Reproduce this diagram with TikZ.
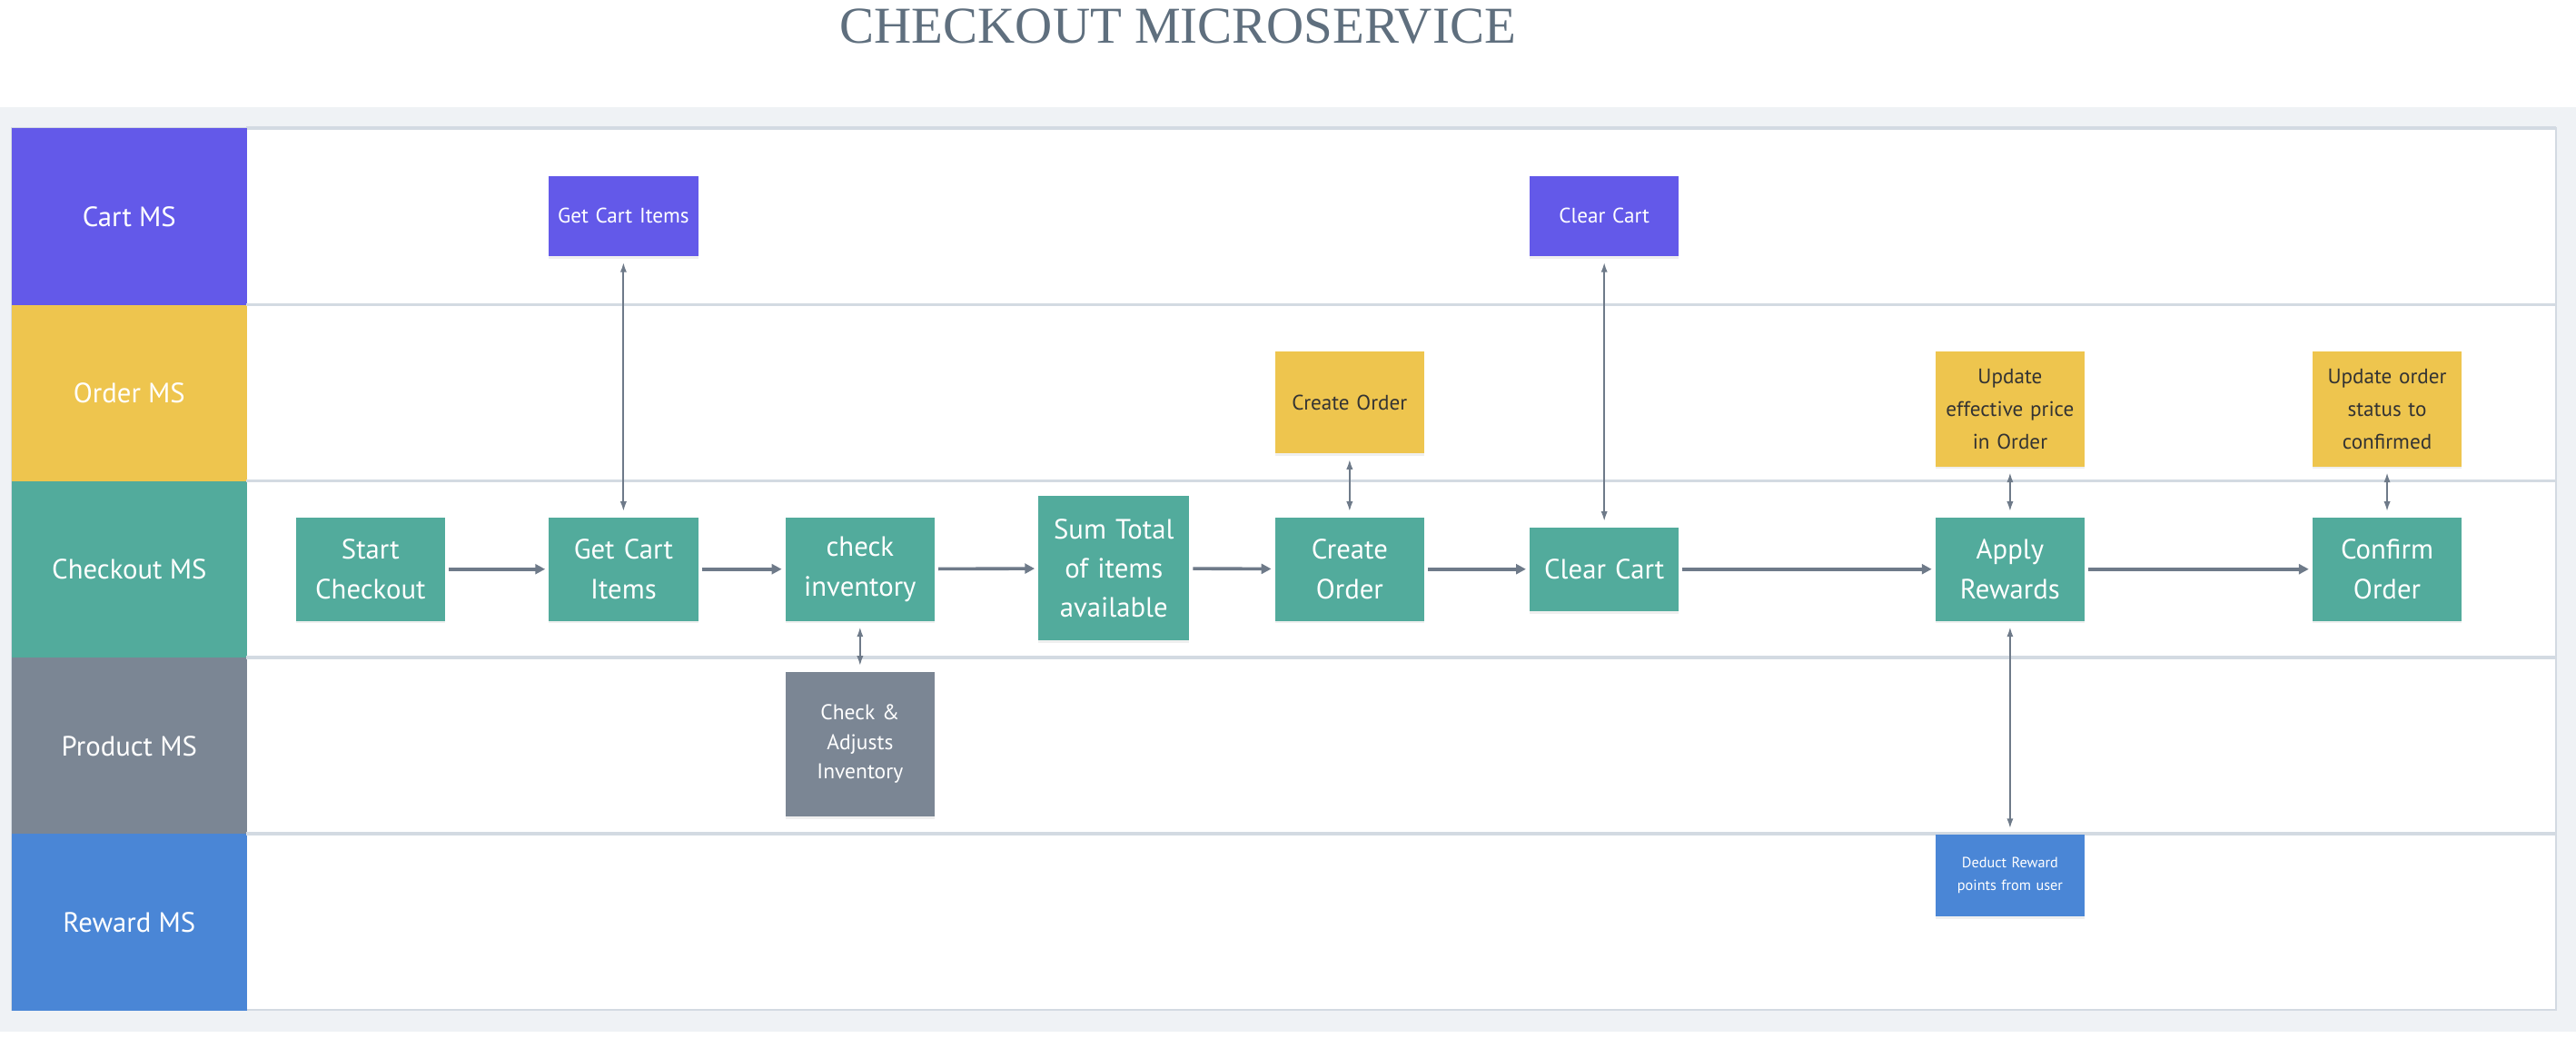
\documentclass[tikz,border=0pt]{standalone}
\usepackage{fontspec}
\setmainfont{PT Sans}
\newfontfamily\titlefont{Liberation Serif}
\usetikzlibrary{arrows.meta,shadows}
\definecolor{cartcol}{HTML}{6359E9}
\definecolor{ordercol}{HTML}{EEC54E}
\definecolor{checkcol}{HTML}{52AB9C}
\definecolor{prodcol}{HTML}{7B8694}
\definecolor{rewardcol}{HTML}{4A86D6}
\definecolor{panelcol}{HTML}{EFF2F5}
\definecolor{sepcol}{HTML}{D3DAE2}
\definecolor{arrowcol}{HTML}{6E7A89}
\definecolor{titlecol}{HTML}{5F6F7E}
\definecolor{darktext}{HTML}{333333}

\begin{document}
\begin{tikzpicture}[x=1pt,y=-1pt,
    lanehead/.style={fill=#1, draw=none, minimum width=143pt, minimum height=107.4pt, anchor=north west, inner sep=0pt,
      text=white, font=\fontsize{17}{20}\selectfont},
    box/.style={fill=#1, draw=none, minimum width=91pt, minimum height=63pt, inner sep=2pt, align=center,
      text width=86pt, text=white, font=\fontsize{17}{24}\selectfont,
      drop shadow={opacity=0.12, shadow xshift=0pt, shadow yshift=-1.5pt}},
    smallbox/.style={box=#1, font=\fontsize{12.8}{20}\selectfont},
    flow/.style={draw=arrowcol, line width=2pt, -{Triangle[length=6pt,width=6pt]}, shorten <=2pt, shorten >=2pt},
    link/.style={draw=arrowcol, line width=1pt, {Latex[length=6pt,width=4pt]}-{Latex[length=6pt,width=4pt]}, shorten <=3.5pt, shorten >=3.5pt}
  ]
  \useasboundingbox (0,0) rectangle (1568,638);
  % title and panel
  \node (title) at (717,16) {\titlefont\fontsize{31.5}{32}\selectfont\color{titlecol}CHECKOUT MICROSERVICE};
  \fill[panelcol] (0,65) rectangle (1568,628);
  \fill[white] (7,78) rectangle (1556,615);
  \draw[sepcol, line width=1pt] (7,78) rectangle (1556,615);
  \draw[sepcol, line width=2.5pt] (150,78) -- (1556,78);

  % lanes
  \foreach \lname/\lcol [count=\i] in {Cart MS/cartcol, Order MS/ordercol, Checkout MS/checkcol, Product MS/prodcol, Reward MS/rewardcol} {
    \pgfmathsetmacro{\ly}{78+(\i-1)*107.4}
    \node[lanehead=\lcol] (lane\i) at (7,\ly) {\lname};
  }
  \foreach \i in {1,...,4} {
    \pgfmathsetmacro{\ly}{78+\i*107.4}
    \draw[sepcol, line width=2pt] (150,\ly) -- (1556,\ly);
  }

  % Cart MS
  \node[smallbox=cartcol, minimum height=49pt] (cartItems) at (379.5,131.5) {Get Cart Items};
  \node[smallbox=cartcol, minimum height=49pt] (cartClear) at (976.5,131.5) {Clear Cart};

  % Order MS
  \node[smallbox=ordercol, text=darktext, minimum height=62pt] (ordCreate) at (821.5,245) {Create Order};
  \node[smallbox=ordercol, text=darktext, minimum height=70pt] (ordPrice) at (1223.5,249) {Update\\effective price\\in Order};
  \node[smallbox=ordercol, text=darktext, minimum height=70pt] (ordStatus) at (1453,249) {Update order\\status to\\confirmed};

  % Checkout MS
  \node[box=checkcol] (start) at (225.5,346.5) {Start\\Checkout};
  \node[box=checkcol] (getItems) at (379.5,346.5) {Get Cart\\Items};
  \node[box=checkcol] (checkInv) at (523.5,346.5) {check\\inventory};
  \node[box=checkcol, minimum width=92pt, minimum height=88pt] (sumTotal) at (678,346) {Sum Total\\of items\\available};
  \node[box=checkcol] (createOrder) at (821.5,346.5) {Create\\Order};
  \node[box=checkcol, minimum height=51pt] (clearCart) at (976.5,346.5) {Clear Cart};
  \node[box=checkcol] (applyRew) at (1223.5,346.5) {Apply\\Rewards};
  \node[box=checkcol] (confirm) at (1453,346.5) {Confirm\\Order};

  % Product MS
  \node[smallbox=prodcol, minimum height=88pt, font=\fontsize{13}{18}\selectfont] (adjustInv) at (523.5,453) {Check \&\\Adjusts\\Inventory};

  % Reward MS
  \node[smallbox=rewardcol, minimum height=50pt, font=\fontsize{9}{14}\selectfont] (deduct) at (1223.5,533) {Deduct Reward\\points from user};

  % flow
  \draw[flow] (start) -- (getItems);
  \draw[flow] (getItems) -- (checkInv);
  \draw[flow] (checkInv) -- (sumTotal);
  \draw[flow] (sumTotal) -- (createOrder);
  \draw[flow] (createOrder) -- (clearCart);
  \draw[flow] (clearCart) -- (applyRew);
  \draw[flow] (applyRew) -- (confirm);

  % calls to other services
  \draw[link] (cartItems) -- (getItems);
  \draw[link] (cartClear) -- (clearCart);
  \draw[link] (ordCreate) -- (createOrder);
  \draw[link] (ordPrice) -- (applyRew);
  \draw[link] (ordStatus) -- (confirm);
  \draw[link] (checkInv) -- (adjustInv);
  \draw[link] (applyRew) -- (deduct);
\end{tikzpicture}
\end{document}
